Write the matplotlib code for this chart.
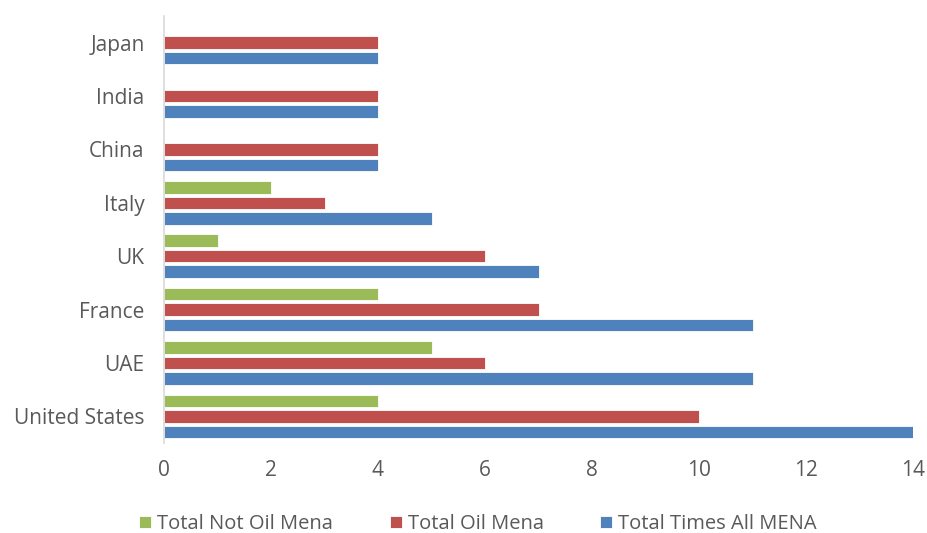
import matplotlib
matplotlib.use("Agg")
import matplotlib.pyplot as plt
import numpy as np

plt.rcParams["font.family"] = ["Open Sans", "DejaVu Sans"]

COUNTRIES = ["United States", "UAE", "France", "UK", "Italy", "China", "India", "Japan"]
ALL_MENA = [14, 11, 11, 7, 5, 4, 4, 4]
OIL_MENA = [10, 6, 7, 6, 3, 4, 4, 4]
NOT_OIL_MENA = [4, 5, 4, 1, 2, 0, 0, 0]

SERIES = [
    ("Total Times All MENA", ALL_MENA, "#4F81BD"),
    ("Total Oil Mena", OIL_MENA, "#C0504D"),
    ("Total Not Oil Mena", NOT_OIL_MENA, "#9BBB59"),
]

TEXT = "#595959"

fig = plt.figure(figsize=(9.27, 5.33), dpi=100)
ax = fig.add_axes([164 / 927, 1 - 443 / 533, (913 - 164) / 927, (443 - 16) / 533])

y = np.arange(len(COUNTRIES))
slot = 0.29
height = 0.235
handles = []
for i, (name, vals, color) in enumerate(SERIES):
    bars = ax.barh(y + (i - 1) * slot, vals, height=height, color=color,
                   edgecolor="white", linewidth=0.6, label=name)
    handles.append(bars)

ax.set_xlim(0, 14)
ax.set_ylim(-0.5, len(COUNTRIES) - 0.5)
ax.set_xticks(range(0, 15, 2))
ax.set_yticks(y)
ax.set_yticklabels(COUNTRIES)
ax.tick_params(axis="both", length=0, labelsize=15, colors=TEXT)
ax.tick_params(axis="x", pad=12)
ax.tick_params(axis="y", pad=14)

for side in ["top", "right", "bottom"]:
    ax.spines[side].set_visible(False)
ax.spines["left"].set_color("#D9D9D9")
ax.spines["left"].set_linewidth(1.2)

# legend in series order: green, red, blue
leg = fig.legend(handles[::-1], [s[0] for s in SERIES][::-1], loc="center",
                 bbox_to_anchor=(478 / 927, 1 - 524 / 533), ncol=3, frameon=False,
                 fontsize=14.5, handlelength=0.6, handleheight=0.6,
                 handletextpad=0.3, columnspacing=2.8)
for t in leg.get_texts():
    t.set_color(TEXT)

fig.savefig("out.png", dpi=100)
